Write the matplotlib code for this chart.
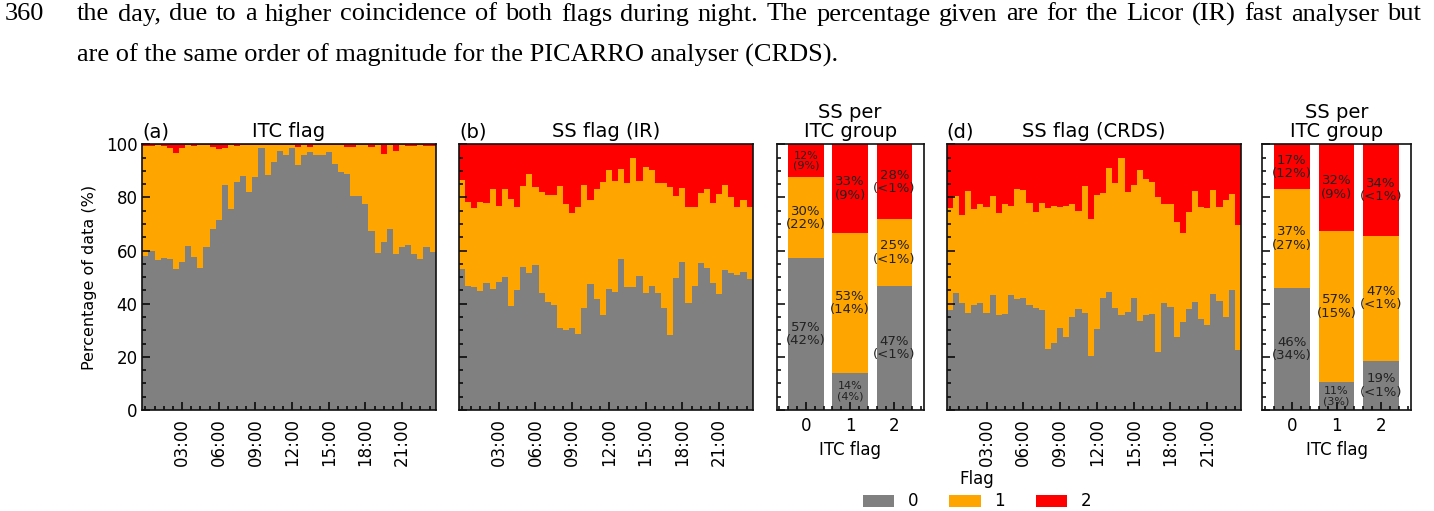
import matplotlib
matplotlib.use("Agg")
import numpy as np
import matplotlib.pyplot as plt
from matplotlib.ticker import AutoMinorLocator, FixedLocator
from matplotlib.patches import Patch

# ---------------- data ----------------
# half-hourly slots (categories of the diurnal panels)
slots = [f"{h:02d}:{m:02d}" for h in range(24) for m in (0, 30)]
hour_ticks = ["03:00", "06:00", "09:00", "12:00", "15:00", "18:00", "21:00"]

# (a) ITC flag
a_flag0 = [58.1, 59.8, 56.6, 57.3, 56.8, 53.2, 55.7, 61.7, 57.7, 53.6, 61.4, 68.0,
           71.5, 84.8, 75.5, 85.8, 88.0, 82.0, 87.7, 98.5, 88.6, 93.3, 97.4, 95.9,
           98.6, 92.1, 96.1, 97.2, 95.9, 95.9, 97.2, 92.6, 89.5, 88.8, 80.6, 80.6,
           77.5, 67.5, 59.2, 63.2, 68.0, 58.7, 61.5, 62.0, 58.8, 57.0, 61.2, 59.6]
a_flag1 = [41.4, 39.7, 43.1, 42.2, 41.7, 43.4, 42.9, 38.0, 41.5, 46.1, 38.3, 31.0,
           26.6, 13.7, 24.2, 13.4, 11.7, 17.7, 12.0, 1.2, 11.1, 6.4, 2.3, 3.8,
           1.1, 6.8, 3.6, 1.8, 3.8, 3.8, 2.5, 7.1, 10.2, 10.2, 18.4, 19.1,
           22.2, 31.3, 40.5, 33.3, 31.7, 38.9, 38.2, 37.5, 40.7, 42.7, 38.3, 39.9]
a_flag2 = [0.5, 0.5, 0.3, 0.5, 1.5, 3.4, 1.4, 0.3, 0.8, 0.3, 0.3, 1.0,
           1.9, 1.5, 0.3, 0.8, 0.3, 0.3, 0.3, 0.3, 0.3, 0.3, 0.3, 0.3,
           0.3, 1.1, 0.3, 1.0, 0.3, 0.3, 0.3, 0.3, 0.3, 1.0, 1.0, 0.3,
           0.3, 1.2, 0.3, 3.5, 0.3, 2.4, 0.3, 0.5, 0.5, 0.3, 0.5, 0.5]

# (b) SS flag (IR)
b_flag0 = [52.9, 46.7, 46.4, 44.9, 47.9, 45.5, 48.1, 49.9, 39.3, 45.0, 53.8, 51.7,
           54.5, 43.9, 40.5, 39.4, 30.9, 30.1, 30.9, 28.6, 38.5, 47.3, 41.7, 35.8,
           45.7, 44.3, 56.7, 46.4, 46.2, 50.6, 43.9, 46.8, 43.9, 38.3, 28.3, 49.8,
           55.8, 40.2, 46.8, 55.5, 53.3, 47.9, 43.7, 52.7, 51.4, 50.8, 51.9, 49.4]
b_flag1 = [33.7, 31.5, 29.5, 33.3, 30.1, 37.7, 28.7, 33.3, 40.0, 31.3, 30.5, 37.1,
           29.3, 38.3, 40.4, 41.5, 53.4, 47.4, 43.4, 47.9, 46.1, 31.7, 41.4, 49.9,
           44.6, 42.0, 34.1, 38.9, 48.5, 35.7, 47.7, 43.5, 41.7, 47.3, 55.5, 30.8,
           27.9, 36.3, 29.7, 26.3, 29.9, 30.1, 37.5, 31.9, 28.8, 25.7, 27.1, 27.1]
b_flag2 = [13.4, 21.8, 24.1, 21.8, 22.0, 16.8, 23.2, 16.8, 20.7, 23.7, 15.7, 11.2,
           16.2, 17.8, 19.1, 19.1, 15.7, 22.5, 25.7, 23.5, 15.4, 21.0, 16.9, 14.3,
           9.7, 13.7, 9.2, 14.7, 5.3, 13.7, 8.4, 9.7, 14.4, 14.4, 16.2, 19.4,
           16.3, 23.5, 23.5, 18.2, 16.8, 22.0, 18.8, 15.4, 19.8, 23.5, 21.0, 23.5]

# (d) SS flag (CRDS)
d_flag0 = [37.6, 44.1, 40.2, 36.6, 39.5, 40.2, 36.6, 43.3, 35.6, 36.1, 43.3, 41.8,
           42.3, 39.5, 38.3, 37.6, 22.8, 25.1, 30.7, 27.4, 34.9, 38.0, 36.6, 20.5,
           30.5, 42.0, 44.3, 38.5, 35.8, 37.0, 42.0, 33.6, 35.8, 36.1, 22.0, 40.4,
           38.6, 27.6, 33.2, 37.9, 40.5, 34.1, 32.0, 43.5, 41.2, 35.1, 45.2, 22.6]
d_flag1 = [38.3, 36.5, 33.2, 45.8, 36.2, 37.2, 39.9, 37.3, 38.4, 41.3, 33.6, 41.4,
           40.5, 38.3, 36.1, 40.2, 53.4, 51.8, 45.6, 49.4, 42.5, 37.0, 47.8, 51.4,
           50.5, 39.8, 46.7, 46.8, 58.9, 44.9, 42.7, 56.7, 51.0, 49.6, 58.0, 37.1,
           38.8, 43.3, 33.6, 36.5, 41.9, 42.4, 43.9, 39.3, 35.3, 43.9, 36.1, 47.0]
d_flag2 = [24.1, 19.4, 26.6, 17.6, 24.3, 22.6, 23.5, 19.4, 26.0, 22.6, 23.1, 16.8,
           17.2, 22.2, 25.6, 22.2, 23.8, 23.1, 23.7, 23.2, 22.6, 25.0, 15.6, 28.1,
           19.0, 18.2, 9.0, 14.7, 5.3, 18.1, 15.3, 9.7, 13.2, 14.3, 20.0, 22.5,
           22.6, 29.1, 33.2, 25.6, 17.6, 23.5, 24.1, 17.2, 23.5, 21.0, 18.7, 30.4]

# (c) / (e) SS per ITC group
itc_groups = ["0", "1", "2"]
c_flag0 = [57.1, 13.8, 46.7]
c_flag1 = [30.5, 53.0, 25.1]
c_flag2 = [12.4, 33.2, 28.2]
c_lab0 = ["57%\n(42%)", "14%\n(4%)", "47%\n(<1%)"]
c_lab1 = ["30%\n(22%)", "53%\n(14%)", "25%\n(<1%)"]
c_lab2 = ["12%\n(9%)", "33%\n(9%)", "28%\n(<1%)"]

e_flag0 = [46.0, 10.4, 18.6]
e_flag1 = [37.0, 57.1, 47.0]
e_flag2 = [17.0, 32.5, 34.4]
e_lab0 = ["46%\n(34%)", "11%\n(3%)", "19%\n(<1%)"]
e_lab1 = ["37%\n(27%)", "57%\n(15%)", "47%\n(<1%)"]
e_lab2 = ["17%\n(12%)", "32%\n(9%)", "34%\n(<1%)"]

flag_names = ["0", "1", "2"]
colors = ["#808080", "#FFA500", "#FF0000"]

line1 = ("the day, due to a higher coincidence of both flags during night. The percentage "
         "given are for the Licor (IR) fast analyser but")
line2 = "are of the same order of magnitude for the PICARRO analyser (CRDS)."

# ---------------- figure ----------------
W, H, DPI = 1434, 511, 100
fig = plt.figure(figsize=(W / DPI, H / DPI), dpi=DPI)
fig.patch.set_facecolor("white")

TICK_FS = 12
TITLE_FS = 14


def px_axes(x0, x1, top=144.3, bottom=410.0):
    return fig.add_axes([x0 / W, (H - bottom) / H, (x1 - x0) / W, (bottom - top) / H])


def style(ax, ylabels=False):
    ax.set_ylim(0, 100)
    ax.set_yticks([0, 20, 40, 60, 80, 100])
    ax.yaxis.set_minor_locator(AutoMinorLocator())
    ax.tick_params(which="both", direction="in", top=False, right=False,
                   labelsize=TICK_FS, width=1.1, color="black")
    ax.tick_params(which="major", length=5.5)
    ax.tick_params(which="minor", length=3)
    if not ylabels:
        ax.tick_params(axis="y", labelleft=False)
    for s in ax.spines.values():
        s.set_linewidth(1.2)
        s.set_color("#111111")
        s.set_zorder(5)


def diurnal(ax, f0, f1, f2, letter, title, ylabels=False):
    x = np.arange(len(slots))
    f0 = np.array(f0); f1 = np.array(f1); f2 = np.array(f2)
    for vals, bot, c in ((f0, 0, colors[0]), (f1, f0, colors[1]), (f2, f0 + f1, colors[2])):
        ax.bar(x, vals, bottom=bot, width=1.0, color=c, linewidth=0, antialiased=False)
    ax.set_xlim(-0.5, len(slots) - 0.5)
    ax.xaxis.set_major_locator(FixedLocator([slots.index(t) for t in hour_ticks]))
    ax.set_xticklabels(hour_ticks, rotation=90)
    ax.xaxis.set_minor_locator(AutoMinorLocator())
    style(ax, ylabels)
    ax.tick_params(axis="x", which="major", pad=6)
    ax.set_title(letter, loc="left", fontsize=TITLE_FS, pad=5)
    ax.set_title(title, loc="center", fontsize=TITLE_FS, pad=5)


def group(ax, f0, f1, f2, l0, l1, l2):
    x = np.arange(len(itc_groups))
    f0 = np.array(f0); f1 = np.array(f1); f2 = np.array(f2)
    bots = (np.zeros(3), f0, f0 + f1)
    for vals, bot, c, labs in zip((f0, f1, f2), bots, colors, (l0, l1, l2)):
        ax.bar(x, vals, bottom=bot, width=0.8, color=c, linewidth=0, antialiased=False)
        for xi, v, b, lab in zip(x, vals, bot, labs):
            fs = 8 if v < 15 else 9.5
            ax.text(xi, b + v / 2, lab, ha="center", va="center", fontsize=fs,
                    color="#222222", linespacing=1.05)
    ax.set_xlim(-0.66, 2.66)
    ax.set_xticks(x)
    ax.set_xticklabels(itc_groups)
    ax.xaxis.set_minor_locator(AutoMinorLocator())
    style(ax)
    ax.tick_params(axis="x", which="major", pad=5)
    ax.set_xlabel("ITC flag", fontsize=TICK_FS, labelpad=4)
    ax.set_title("SS per\nITC group", fontsize=TITLE_FS, pad=5, linespacing=1.0)


ax_a = px_axes(142.3, 435.7)
diurnal(ax_a, a_flag0, a_flag1, a_flag2, "(a)", "ITC flag", ylabels=True)
ax_a.set_ylabel("Percentage of data (%)", fontsize=11.5, labelpad=6)

ax_b = px_axes(459.0, 752.7)
diurnal(ax_b, b_flag0, b_flag1, b_flag2, "(b)", "SS flag (IR)")

ax_c = px_axes(776.7, 923.7)
group(ax_c, c_flag0, c_flag1, c_flag2, c_lab0, c_lab1, c_lab2)

ax_d = px_axes(946.7, 1241.0)
diurnal(ax_d, d_flag0, d_flag1, d_flag2, "(d)", "SS flag (CRDS)")

ax_e = px_axes(1262.3, 1410.7)
group(ax_e, e_flag0, e_flag1, e_flag2, e_lab0, e_lab1, e_lab2)

handles = [Patch(facecolor=c, edgecolor="none") for c in colors]
fig.legend(handles, flag_names, title="Flag", loc="center",
           bbox_to_anchor=(977 / W, 1 - 490 / H), ncol=3, frameon=False,
           fontsize=12, title_fontsize=12, handlelength=1.9, handleheight=0.75,
           columnspacing=1.85, handletextpad=0.8, borderpad=0.2, labelspacing=0.3)

# ---------------- paper text above ----------------
serif = dict(family="Liberation Serif", fontsize=19, color="black", va="baseline")
renderer = fig.canvas.get_renderer()


def justified(text, x0, x1, ybase):
    words = text.split(" ")
    widths = []
    for w in words:
        t = fig.text(0, 0, w, **serif)
        widths.append(t.get_window_extent(renderer=renderer).width)
        t.remove()
    gap = (x1 - x0 - sum(widths)) / (len(words) - 1)
    x = x0
    for w, wd in zip(words, widths):
        fig.text(x / W, 1 - ybase / H, w, **serif)
        x += wd + gap


fig.text(5 / W, 1 - 20.5 / H, "360", **serif)
justified(line1, 77, 1421, 20.5)
fig.text(77 / W, 1 - 61.5 / H, line2, **serif)

fig.savefig("out.png", dpi=DPI)
